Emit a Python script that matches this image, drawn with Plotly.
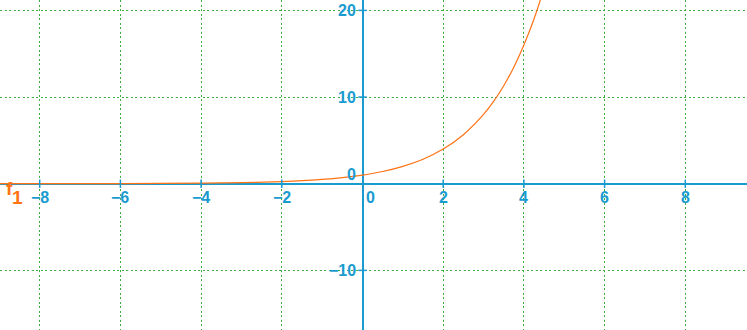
import plotly.graph_objects as go

# curve points (f1)
curve_x = [-9, -8, -7, -6, -5, -4, -3, -2, -1.5, -1, -0.5, 0, 0.5, 1, 1.5, 2, 2.5, 3, 3.25, 3.5, 3.75, 4, 4.25, 4.5, 4.75]
curve_y = [0.002, 0.004, 0.008, 0.016, 0.03, 0.06, 0.12, 0.25, 0.35, 0.5, 0.71, 1.0, 1.41, 2.0, 2.83, 4.0, 5.66, 8.0, 9.5, 11.3, 13.45, 16.0, 19.0, 22.6, 26.9]

x_ticks = [-8, -6, -4, -2, 0, 2, 4, 6, 8]
x_tick_labels = ["\u22128", "\u22126", "\u22124", "\u22122", "0", "2", "4", "6", "8"]
y_ticks = [-10, 0, 10, 20]
y_tick_labels = ["\u221210", "0", "10", "20"]
curve_name = "f"
curve_index = "1"

AXIS = "#1a9bd0"
GRID = "#3dae3d"
CURVE = "#ff7315"
FONT = "Liberation Sans"

fig = go.Figure()
fig.add_trace(go.Scatter(x=curve_x, y=curve_y, mode="lines", line=dict(color=CURVE, width=1.2, shape="spline"),
                         hoverinfo="skip", showlegend=False))
# tick marks
fig.add_trace(go.Scatter(x=[t for t in x_ticks if t != 0], y=[0]*8, mode="markers",
                         marker=dict(symbol="line-ns", size=6, line=dict(color=AXIS, width=1.5)),
                         showlegend=False, hoverinfo="skip"))
fig.add_trace(go.Scatter(x=[0]*3, y=[t for t in y_ticks if t != 0], mode="markers",
                         marker=dict(symbol="line-ew", size=6, line=dict(color=AXIS, width=1.5)),
                         showlegend=False, hoverinfo="skip"))

ann = []
for t, lab in zip(x_ticks, x_tick_labels):
    ann.append(dict(x=t, y=0, xref="x", yref="y", text="<b>" + lab + "</b>", showarrow=False,
                    xanchor="center", yanchor="top", yshift=-3, xshift=(8 if t == 0 else 0),
                    font=dict(family=FONT, size=16, color=AXIS)))
for t, lab in zip(y_ticks, y_tick_labels):
    ann.append(dict(x=0, y=t, xref="x", yref="y", text="<b>" + lab + "</b>", showarrow=False,
                    xanchor="right", yanchor=("bottom" if t == 0 else "middle"), xshift=-5,
                    yshift=(-1 if t == 0 else 0),
                    font=dict(family=FONT, size=16, color=AXIS)))
ann.append(dict(x=3.5 / 747, y=0, xref="paper", yref="y", text="<b>" + curve_name + "</b>", showarrow=False,
                xanchor="left", yanchor="middle", yshift=-4.5,
                font=dict(family=FONT, size=19, color=CURVE)))
ann.append(dict(x=9.5 / 747, y=0, xref="paper", yref="y", text="<b>" + curve_index + "</b>", showarrow=False,
                xanchor="left", yanchor="middle", yshift=-14,
                font=dict(family=FONT, size=19, color=CURVE)))

fig.update_layout(
    width=747, height=330, margin=dict(l=0, r=0, t=0, b=0),
    paper_bgcolor="white", plot_bgcolor="white",
    annotations=ann,
    xaxis=dict(range=[-8.984, 9.529], tickvals=[-8, -6, -4, -2, 0, 2, 4, 6, 8], showticklabels=False,
               showgrid=True, gridcolor=GRID, griddash="2px,2.5px", gridwidth=1,
               zeroline=True, zerolinecolor=AXIS, zerolinewidth=2, showline=False, fixedrange=True),
    yaxis=dict(range=[-16.88, 21.2], tickvals=[-10, 0, 10, 20], showticklabels=False,
               showgrid=True, gridcolor=GRID, griddash="2px,2.5px", gridwidth=1,
               zeroline=True, zerolinecolor=AXIS, zerolinewidth=2, showline=False, fixedrange=True),
)
fig.write_html("out.html")
